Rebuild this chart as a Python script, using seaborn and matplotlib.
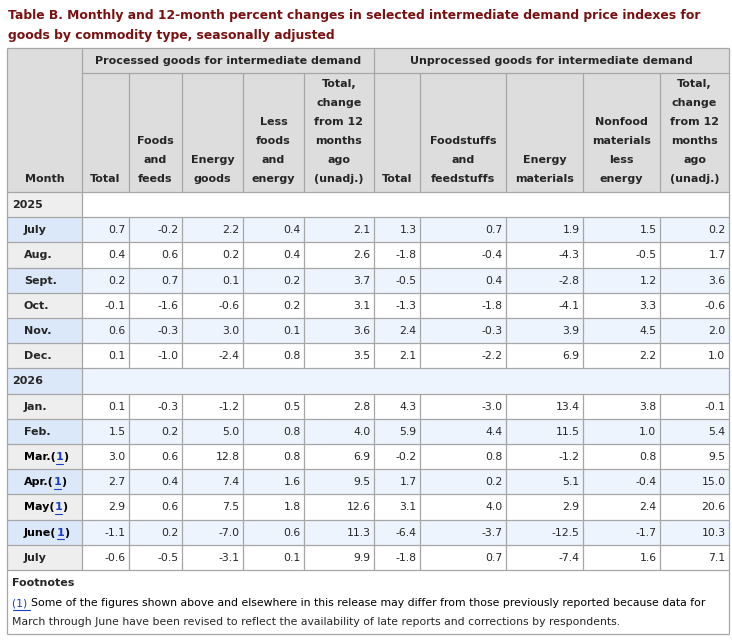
import numpy as np
import pandas as pd
import matplotlib
matplotlib.use("Agg")
import matplotlib.pyplot as plt
from matplotlib.patches import Rectangle
import seaborn as sns

sns.set_theme(style="white")
plt.rcParams['font.family'] = ['DejaVu Sans']

# ---- data ----
title = ("Table B. Monthly and 12-month percent changes in selected intermediate demand price indexes for\n"
         "goods by commodity type, seasonally adjusted")
groups = ["Processed goods for intermediate demand", "Unprocessed goods for intermediate demand"]
col_headers = ["Total", "Foods\nand\nfeeds", "Energy\ngoods", "Less\nfoods\nand\nenergy",
               "Total,\nchange\nfrom 12\nmonths\nago\n(unadj.)",
               "Total", "Foodstuffs\nand\nfeedstuffs", "Energy\nmaterials",
               "Nonfood\nmaterials\nless\nenergy",
               "Total,\nchange\nfrom 12\nmonths\nago\n(unadj.)"]
row_labels = ["2025", "July", "Aug.", "Sept.", "Oct.", "Nov.", "Dec.",
              "2026", "Jan.", "Feb.", "Mar.", "Apr.", "May", "June", "July"]
year_rows = ["2025", "2026"]
footnoted = [10, 11, 12, 13]

proc_total   = [0.7, 0.4, 0.2, -0.1, 0.6, 0.1, 0.1, 1.5, 3.0, 2.7, 2.9, -1.1, -0.6]
proc_foods   = [-0.2, 0.6, 0.7, -1.6, -0.3, -1.0, -0.3, 0.2, 0.6, 0.4, 0.6, 0.2, -0.5]
proc_energy  = [2.2, 0.2, 0.1, -0.6, 3.0, -2.4, -1.2, 5.0, 12.8, 7.4, 7.5, -7.0, -3.1]
proc_core    = [0.4, 0.4, 0.2, 0.2, 0.1, 0.8, 0.5, 0.8, 0.8, 1.6, 1.8, 0.6, 0.1]
proc_12m     = [2.1, 2.6, 3.7, 3.1, 3.6, 3.5, 2.8, 4.0, 6.9, 9.5, 12.6, 11.3, 9.9]
unproc_total = [1.3, -1.8, -0.5, -1.3, 2.4, 2.1, 4.3, 5.9, -0.2, 1.7, 3.1, -6.4, -1.8]
unproc_food  = [0.7, -0.4, 0.4, -1.8, -0.3, -2.2, -3.0, 4.4, 0.8, 0.2, 4.0, -3.7, 0.7]
unproc_energy = [1.9, -4.3, -2.8, -4.1, 3.9, 6.9, 13.4, 11.5, -1.2, 5.1, 2.9, -12.5, -7.4]
unproc_nonfood = [1.5, -0.5, 1.2, 3.3, 4.5, 2.2, 3.8, 1.0, 0.8, -0.4, 2.4, -1.7, 1.6]
unproc_12m   = [0.2, 1.7, 3.6, -0.6, 2.0, 1.0, -0.1, 5.4, 9.5, 15.0, 20.6, 10.3, 7.1]

footnote_head = "Footnotes"
footnote_mark = "(1)"
footnote_lines = ["Some of the figures shown above and elsewhere in this release may differ from those previously reported because data for",
                  "March through June have been revised to reflect the availability of late reports and corrections by respondents."]

df = pd.DataFrame({
    "pt": proc_total, "pf": proc_foods, "pe": proc_energy, "pc": proc_core, "p12": proc_12m,
    "ut": unproc_total, "uf": unproc_food, "ue": unproc_energy, "un": unproc_nonfood, "u12": unproc_12m,
}, index=[r for r in row_labels if r not in year_rows])

# ---- layout (pixels) ----
col_edges = [7, 82, 129, 182, 243, 304, 374, 420, 506, 583, 660, 729]
top, grp_bot, head_bot = 48, 73, 192
row_h = 25.2
n_rows = len(row_labels)
tab_bot = head_bot + n_rows * row_h
foot_bot = 634

c_head = "#dddddd"
c_month = "#eeeeee"
c_month_alt = "#dbe8fa"
c_cell_alt = "#eef4fe"
c_line = "#a6a6a6"
c_title = "#7a1010"
c_link = "#1a3fc4"

fig = plt.figure(figsize=(7.32, 6.40), dpi=100)
ax = fig.add_axes([0, 0, 1, 1])
ax.set_xlim(0, 732)
ax.set_ylim(640, 0)
ax.axis("off")
renderer = fig.canvas.get_renderer()


def text_width(s, size, weight="normal"):
    if not s:
        return 0.0
    t = ax.text(0, 0, s.replace(" ", "\u00a0"), fontsize=size, fontweight=weight)
    w = t.get_window_extent(renderer).width
    t.remove()
    return w


def fit(s, target, weight="normal", base=10.0):
    return base * target / text_width(s, base, weight)


# sizes fitted to the widths measured on the reference
fs_title = fit(title.split("\n")[0], 698, "bold")
fs_bold = fit(groups[0], 268, "bold")
fs = fit(footnote_mark + " " + footnote_lines[0], 693)


def rect(x0, y0, x1, y1, color):
    ax.add_patch(Rectangle((x0, y0), x1 - x0, y1 - y0, facecolor=color, edgecolor="none", zorder=1))


def runs(x, y, parts, size, weight="normal"):
    # place each piece at the width of everything before it
    prefix = ""
    for txt, color, under in parts:
        x0 = x + text_width(prefix, size, weight) if prefix else x
        x1 = x + text_width(prefix + txt, size, weight)
        ax.text(x0, y, txt, color=color, va="center", ha="left", zorder=3,
                fontsize=size, fontweight=weight)
        if under:
            ax.plot([x0 + 0.5, x1 - 0.5], [y + 6.5, y + 6.5], color=color, lw=0.8, zorder=3)
        prefix += txt


# title
for i, line in enumerate(title.split("\n")):
    ax.text(8, 15 + 21 * i, line, color=c_title, fontsize=fs_title, fontweight="bold", va="center", ha="left")

# header backgrounds
rect(col_edges[0], top, col_edges[-1], head_bot, c_head)
ax.text((col_edges[0] + col_edges[1]) / 2, 179, "Month", fontsize=fs_bold, fontweight="bold", ha="center", va="center")
for g, name in enumerate(groups):
    x0, x1 = col_edges[1 + 5 * g], col_edges[6 + 5 * g]
    ax.text((x0 + x1) / 2, 60.5, name, fontsize=fs_bold, fontweight="bold", ha="center", va="center")
for j, h in enumerate(col_headers):
    cx = (col_edges[j + 1] + col_edges[j + 2]) / 2
    for k, line in enumerate(reversed(h.split("\n"))):
        ax.text(cx, 179 - 19 * k, line, fontsize=fs_bold, fontweight="bold", ha="center", va="center")

# body rows
data_rows = iter(df.itertuples(index=False))
for i, lab in enumerate(row_labels):
    y0 = head_bot + i * row_h
    y1 = y0 + row_h
    cy = (y0 + y1) / 2 + 0.5
    alt = i % 2 == 1
    rect(col_edges[0], y0, col_edges[1], y1, c_month_alt if alt else c_month)
    rect(col_edges[1], y0, col_edges[-1], y1, c_cell_alt if alt else "white")
    if lab in year_rows:
        ax.text(12, cy, lab, fontsize=fs_bold, fontweight="bold", ha="left", va="center", zorder=3)
        continue
    if i in footnoted:
        runs(24, cy, [(lab + "(", "black", False), ("1", c_link, True), (")", "black", False)],
             fs_bold, "bold")
    else:
        ax.text(24, cy, lab, fontsize=fs_bold, fontweight="bold", ha="left", va="center", zorder=3)
    vals = next(data_rows)
    for j, v in enumerate(vals):
        ax.text(col_edges[j + 2] - 3.5, cy, f"{v:.1f}", fontsize=fs, ha="right", va="center", zorder=3)

# grid lines
lw = 0.9
ax.hlines([top, tab_bot], col_edges[0], col_edges[-1], color=c_line, lw=lw, zorder=2)
ax.hlines(grp_bot, col_edges[1], col_edges[-1], color=c_line, lw=lw, zorder=2)
ax.hlines([head_bot + i * row_h for i in range(n_rows)], col_edges[0], col_edges[-1], color=c_line, lw=lw, zorder=2)
ax.vlines([col_edges[0], col_edges[1], col_edges[-1]], top, tab_bot, color=c_line, lw=lw, zorder=2)
ax.vlines(col_edges[6], top, head_bot, color=c_line, lw=lw, zorder=2)
inner = [e for k, e in enumerate(col_edges) if k not in (0, 1, len(col_edges) - 1)]
ax.vlines([e for e in inner if e != col_edges[6]], grp_bot, head_bot, color=c_line, lw=lw, zorder=2)
for i, lab in enumerate(row_labels):
    if lab in year_rows:
        continue
    y0 = head_bot + i * row_h
    ax.vlines(inner, y0, y0 + row_h, color=c_line, lw=lw, zorder=2)

# footnotes box
ax.vlines([col_edges[0], col_edges[-1]], tab_bot, foot_bot, color=c_line, lw=lw, zorder=2)
ax.hlines(foot_bot, col_edges[0], col_edges[-1], color=c_line, lw=lw, zorder=2)
ax.text(12, 583, footnote_head, fontsize=fs_bold, fontweight="bold", ha="left", va="center")
runs(12, 603.5, [(footnote_mark + " ", c_link, True), (footnote_lines[0], "black", False)], fs)
ax.text(12, 622, footnote_lines[1], fontsize=fs, ha="left", va="center")

fig.savefig("out.png", dpi=100)
